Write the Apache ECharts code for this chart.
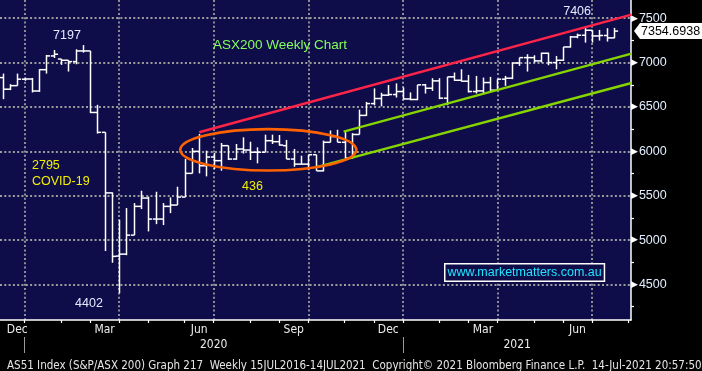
<!DOCTYPE html>
<html><head><meta charset="utf-8">
<script src="https://cdn.jsdelivr.net/npm/echarts@6/dist/echarts.min.js"></script>
<style>html,body{margin:0;padding:0;background:#000;}#c{width:702px;height:371px;}</style>
</head><body><div id="c"></div>
<script>
// ---------- DATA ----------
const dates = [
 '2019-12-06','2019-12-13','2019-12-20','2019-12-27',
 '2020-01-03','2020-01-10','2020-01-17','2020-01-24','2020-01-31',
 '2020-02-07','2020-02-14','2020-02-21','2020-02-28',
 '2020-03-06','2020-03-13','2020-03-20','2020-03-27',
 '2020-04-03','2020-04-10','2020-04-17','2020-04-24',
 '2020-05-01','2020-05-08','2020-05-15','2020-05-22','2020-05-29',
 '2020-06-05','2020-06-12','2020-06-19','2020-06-26',
 '2020-07-03','2020-07-10','2020-07-17','2020-07-24','2020-07-31',
 '2020-08-07','2020-08-14','2020-08-21','2020-08-28',
 '2020-09-04','2020-09-11','2020-09-18','2020-09-25',
 '2020-10-02','2020-10-09','2020-10-16','2020-10-23','2020-10-30',
 '2020-11-06','2020-11-13','2020-11-20','2020-11-27',
 '2020-12-04','2020-12-11','2020-12-18','2020-12-25',
 '2021-01-01','2021-01-08','2021-01-15','2021-01-22','2021-01-29',
 '2021-02-05','2021-02-12','2021-02-19','2021-02-26',
 '2021-03-05','2021-03-12','2021-03-19','2021-03-26',
 '2021-04-02','2021-04-09','2021-04-16','2021-04-23','2021-04-30',
 '2021-05-07','2021-05-14','2021-05-21','2021-05-28',
 '2021-06-04','2021-06-11','2021-06-18','2021-06-25',
 '2021-07-02','2021-07-09','2021-07-16'
];
const opens = [
 6831,6700,6740,6813, 6815,6680,6920,7075,7040, 7026,7011,7131,7131,
 6438,6214,5532,4820, 4842,5056,5380,5474, 5237,5237,5380,5395,5485,
 5752,6000,5838,5936, 5895,6064,5913,6026,6015, 5990,5990,6120,6109,
 6064,5913,5856,5856, 5962,5780,6102,6167,6102, 5924,6190,6405,6538,
 6595,6633,6640,6674, 6590,6584,6749,6711,6794, 6599,6839,6801,6790,
 6674,6681,6775,6689, 6813,6824,6995,7056,7056, 7019,7105,7000,7026,
 7176,7289,7308,7364, 7300,7305,7278
];
const highs = [
 6876,6757,6876,6830, 6827,6925,7086,7142,7040, 7026,7150,7197,7131,
 6524,6214,5537,5229, 5361,5417,5556,5489, 5545,5417,5481,5601,5914,
 6038,6196,6008,5981, 6094,6064,6083,6158,6108, 6045,6188,6188,6184,
 6129,6027,5951,5962, 5962,6121,6235,6243,6216, 6205,6470,6557,6709,
 6660,6747,6766,6720, 6664,6749,6760,6824,6824, 6839,6888,6925,6861,
 6850,6831,6839,6813, 6850,7000,7056,7094,7082, 7112,7112,7075,7176,
 7300,7326,7406,7364, 7368,7387,7391
];
const lows = [
 6588,6690,6740,6795, 6663,6670,6876,7052,6974, 6899,6981,7112,6431,
 6200,4877,4745,4402, 4830,5056,5350,5098, 5180,5169,5304,5395,5485,
 5752,5752,5718,5800, 5782,5902,5905,5975,5902, 5865,5990,6083,6064,
 5913,5826,5850,5788, 5780,5775,6102,6102,5924, 5920,6190,6400,6519,
 6508,6625,6606,6584, 6576,6576,6651,6681,6588, 6520,6794,6786,6663,
 6651,6651,6674,6681, 6738,6813,6963,6899,7000, 7000,6970,6925,7019,
 7169,7274,7225,7225, 7248,7237,7275
];
const closes = [
 6700,6740,6813,6815, 6680,6920,7075,7094,7026, 7011,7131,7131,6438,
 6214,5532,4817,4842, 5056,5380,5474,5237, 5237,5380,5395,5485,5752,
 6000,5838,5936,5895, 6064,5913,6026,6015,5990, 5990,6120,6109,6071,
 5913,5856,5856,5962, 5780,6102,6167,6102,5924, 6190,6405,6538,6595,
 6633,6640,6674,6590, 6584,6749,6711,6794,6599, 6839,6801,6790,6674,
 6681,6775,6689,6813, 6824,6995,7056,7056,7019, 7105,7000,7026,7176,
 7289,7308,7364,7300, 7305,7278,7354.6938
];
const lastPrice = 7354.6938;

// x-axis ticks (last weekly bar of each month / quarter)
const monthTickDates = ['2019-12-27','2020-01-31','2020-02-28','2020-03-27','2020-04-24','2020-05-29','2020-06-26',
 '2020-07-31','2020-08-28','2020-09-25','2020-10-30','2020-11-27','2020-12-25','2021-01-29','2021-02-26',
 '2021-03-26','2021-04-30','2021-05-28','2021-06-25','2021-07-30'];
const quarterDates = ['2019-12-27','2020-03-27','2020-06-26','2020-09-25','2020-12-25','2021-03-26','2021-06-25'];
const monthLabels = ['Dec','Mar','Jun','Sep','Dec','Mar','Jun'];
const monthLabelDates = ['2019-12-20','2020-03-13','2020-06-12','2020-09-11','2020-12-11','2021-03-12','2021-06-11'];
const yearLabels = ['2020','2021'];
const yearLabelDates = ['2020-06-26','2021-04-14'];
const yearSepDates = ['2019-12-27','2020-12-25'];
const yMajorTicks = [4500,5000,5500,6000,6500,7000,7500];
const yMinorTicks = [4250,4500,4750,5000,5250,5500,5750,6000,6250,6500,6750,7000,7250,7500];

// trend lines & channel (date, value)
const redLine = [['2020-06-12',6215],['2021-08-02',7540]];
const greenUpper = [['2020-10-29',6222],['2021-08-02',7100]];
const greenLower = [['2020-10-02',5820],['2021-08-02',6770]];
// consolidation ellipse: centre week, centre value, half width (weeks), half height (points)
const rangeEllipse = [[33.5,6017,12.1,233]];

const footer = 'AS51 Index (S&P/ASX 200) Graph 217  Weekly 15JUL2016-14JUL2021  Copyright\u00A9 2021 Bloomberg Finance L.P.  14-Jul-2021 20:57:50';

// ---------- HELPERS ----------
const base = Date.parse('2019-12-27');
const toW = d => (Date.parse(d) - base) / (7 * 86400000);
const xMin = -3.38, xMax = 83.36, yMin = 4100, yMax = 7705;

const ohlc = dates.map((d, i) => [toW(d), opens[i], highs[i], lows[i], closes[i]]);
const monthW = monthTickDates.map(toW);
const quarterW = quarterDates.map(toW);
const labelW = monthLabelDates.map(toW);
const yearW = yearLabelDates.map(toW);
const sepW = yearSepDates.map(toW);
const nearestIdx = (arr, v) => { let b = 0; arr.forEach((a, i) => { if (Math.abs(a - v) < Math.abs(arr[b] - v)) b = i; }); return b; };

const annotations = [
  {text:'7197', w:5.83, v:7301, color:'#e4ecff', align:'center', size:12.5},
  {text:'7406', w:75.95, v:7574, color:'#e4ecff', align:'center', size:12.5},
  {text:'2795', w:1.02, v:5837, color:'#f0f000', align:'left', size:12.5},
  {text:'COVID-19', w:1.02, v:5657, color:'#f0f000', align:'left', size:12.5},
  {text:'4402', w:8.85, v:4283, color:'#e4ecff', align:'center', size:12.5},
  {text:'436', w:31.33, v:5600, color:'#f0f000', align:'center', size:12.5},
  {text:'ASX200 Weekly Chart', w:25.9, v:7199, color:'#84ff5e', align:'left', size:13.5}
];

const chart = echarts.init(document.getElementById('c'), null, {renderer:'canvas', width:702, height:371});
const dotted = {color:'#9c9c9c', type:[2,2.3], width:1.8};
const option = {
  backgroundColor:'#000',
  animation:false,
  grid:{left:0, right:71, top:0, bottom:51, show:true, backgroundColor:'#0f0c4a', borderWidth:0, containLabel:false, outerBoundsMode:'none'},
  title:{text:footer, left:2, top:355, textStyle:{color:'#e6e6e6', fontSize:11.5, fontWeight:'normal', fontFamily:'DejaVu Sans Condensed'}},
  graphic:[{type:'text', left:444, top:263, z:50,
    style:{text:'www.marketmatters.com.au', fill:'#1ee6ff', font:'12.5px "Liberation Sans"', backgroundColor:'#0f0c4a', borderColor:'#ffffff', borderWidth:1.5, padding:[2,2,1,2]}}],
  xAxis:[
    {type:'value', position:'bottom', min:xMin, max:xMax,
     axisLine:{show:true, onZero:false, lineStyle:{color:'#ffffff', width:1.5}},
     axisTick:{show:true, customValues:monthW, length:3, lineStyle:{color:'#ffffff', width:1.2}},
     axisLabel:{customValues:labelW, margin:4, color:'#ececec', fontSize:12, fontFamily:'DejaVu Sans Condensed',
       formatter:v => monthLabels[nearestIdx(labelW, v)]},
     splitLine:{show:false}},
    {type:'value', position:'bottom', min:xMin, max:xMax,
     axisLine:{show:false, onZero:false}, axisTick:{show:false, customValues:quarterW}, axisLabel:{show:false},
     splitLine:{show:true, lineStyle:dotted}},
    {type:'value', position:'bottom', offset:17, min:xMin, max:xMax,
     axisLine:{show:false, onZero:false},
     axisTick:{show:true, customValues:sepW, length:16, lineStyle:{color:'#9a9a9a', width:1}},
     axisLabel:{customValues:yearW, margin:2, color:'#ececec', fontSize:12, fontFamily:'DejaVu Sans Condensed',
       formatter:v => yearLabels[nearestIdx(yearW, v)]},
     splitLine:{show:false}}
  ],
  yAxis:[
    {type:'value', position:'right', min:yMin, max:yMax,
     axisLine:{show:true, onZero:false, lineStyle:{color:'#ffffff', width:1.5}},
     axisTick:{show:true, customValues:yMinorTicks, length:3, lineStyle:{color:'#ffffff', width:1.2}},
     axisLabel:{customValues:yMajorTicks, margin:0,
       formatter:v => '{t|\u25B6}{v|' + v + '}',
       rich:{t:{color:'#ffffff', fontSize:9, fontFamily:'DejaVu Sans', padding:[0,1,0,0]},
             v:{color:'#e2eeff', fontSize:12.5, fontFamily:'Liberation Sans'}}},
     splitLine:{show:false}},
    {type:'value', position:'right', min:yMin, max:yMax,
     axisLine:{show:false, onZero:false}, axisTick:{show:false, customValues:yMajorTicks}, axisLabel:{show:false},
     splitLine:{show:true, lineStyle:dotted}}
  ],
  series:[
    {type:'custom', name:'ASX200', xAxisIndex:0, yAxisIndex:0, data:ohlc, encode:{x:0, y:[1,2,3,4]}, z:3,
     renderItem:(params, api) => {
       const x = Math.round(api.coord([api.value(0), api.value(1)])[0]) + 0.5;
       const yy = k => api.coord([api.value(0), api.value(k)])[1];
       const st = {stroke:'#ffffff', lineWidth:1.5};
       const t = 3.6;
       return {type:'group', children:[
         {type:'line', shape:{x1:x, y1:yy(2), x2:x, y2:yy(3)}, style:st},
         {type:'line', shape:{x1:x - t, y1:yy(1), x2:x, y2:yy(1)}, style:st},
         {type:'line', shape:{x1:x, y1:yy(4), x2:x + t, y2:yy(4)}, style:st}
       ]};
     }},
    {type:'line', name:'red', data:redLine.map(p => [toW(p[0]), p[1]]), symbol:'none', z:5, clip:true,
     lineStyle:{color:'#ff2448', width:2.4}},
    {type:'line', name:'gu', data:greenUpper.map(p => [toW(p[0]), p[1]]), symbol:'none', z:5, clip:true,
     lineStyle:{color:'#86d400', width:2.4}},
    {type:'line', name:'gl', data:greenLower.map(p => [toW(p[0]), p[1]]), symbol:'none', z:5, clip:true,
     lineStyle:{color:'#86d400', width:2.4}},
    {type:'custom', name:'ellipse', data:rangeEllipse, z:6, clip:true,
     renderItem:(params, api) => {
       const c = api.coord([api.value(0), api.value(1)]);
       const s = api.size([api.value(2), api.value(3)]);
       return {type:'ellipse', shape:{cx:c[0], cy:c[1], rx:s[0], ry:s[1]}, style:{fill:null, stroke:'#ff6200', lineWidth:2.6}};
     }},
    {type:'custom', name:'notes', data:annotations.map((a, i) => [a.w, a.v, i]), z:7,
     renderItem:(params, api) => {
       const a = annotations[api.value(2)];
       const c = api.coord([api.value(0), api.value(1)]);
       return {type:'text', x:c[0], y:c[1], style:{text:a.text, fill:a.color, fontSize:a.size, fontFamily:'Liberation Sans', align:a.align, verticalAlign:'middle'}};
     }},
    {type:'custom', name:'lastTag', data:[[xMax, lastPrice]], z:20, clip:false,
     renderItem:(params, api) => {
       const cs = params.coordSys;
       const right = cs.x + cs.width;
       const y = Math.round(api.coord([api.value(0), api.value(1)])[1]);
       const tip = right + 3, h = 8;
       return {type:'group', children:[
         {type:'polygon', shape:{points:[[tip, y], [tip + 6, y - h], [702, y - h], [702, y + h], [tip + 6, y + h]]},
          style:{fill:'#ffffff'}},
         {type:'text', x:tip + 7, y:y + 0.5, style:{text:lastPrice.toFixed(4), fill:'#000000', fontSize:12.5,
          fontFamily:'Liberation Sans', align:'left', verticalAlign:'middle'}}
       ]};
     }}
  ]
};
chart.setOption(option);
</script></body></html>
